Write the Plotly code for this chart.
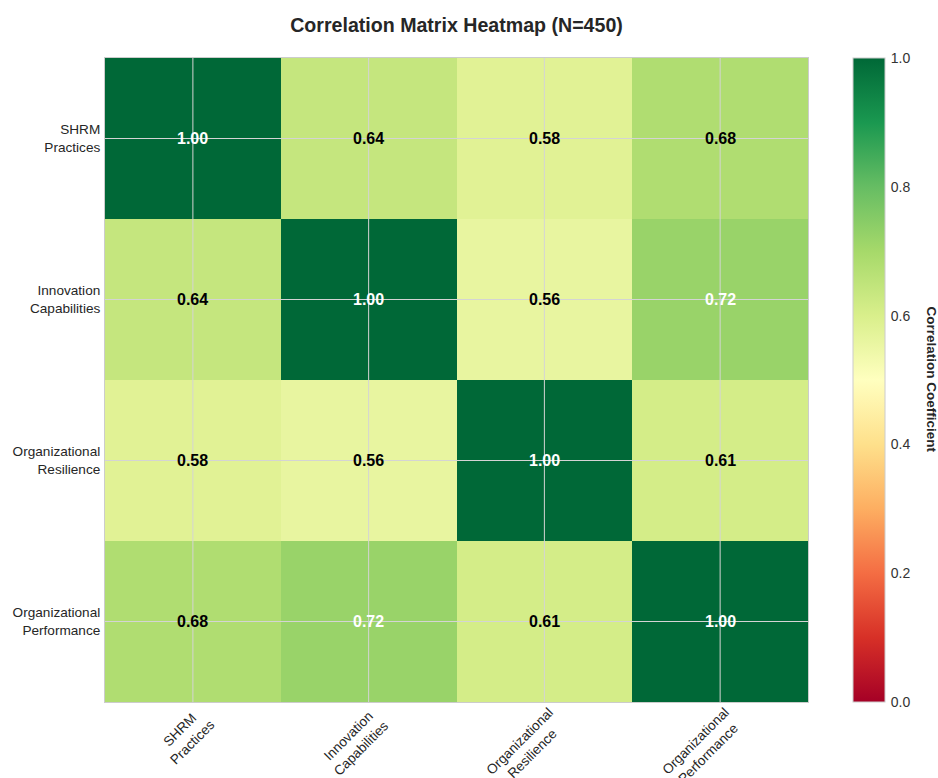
import plotly.graph_objects as go

# Study variables and their pairwise correlations (N=450)
variables = ["SHRM Practices", "Innovation Capabilities",
             "Organizational Resilience", "Organizational Performance"]
row_shrm = [1.00, 0.64, 0.58, 0.68]
row_innov = [0.64, 1.00, 0.56, 0.72]
row_resil = [0.58, 0.56, 1.00, 0.61]
row_perf = [0.68, 0.72, 0.61, 1.00]
colorbar_ticks = [0.0, 0.2, 0.4, 0.6, 0.8, 1.0]

corr = [row_shrm, row_innov, row_resil, row_perf]
labels = [v.replace(" ", "<br>") for v in variables]
idx = list(range(len(variables)))

FONT = "Liberation Sans, Arial, sans-serif"
GRID = "#d4d4d4"
LABEL_SIZE = 13.6

fig = go.Figure(go.Heatmap(
    z=corr, x=idx, y=idx,
    colorscale="RdYlGn", zmin=0, zmax=1,
    xgap=0, ygap=0, hoverinfo="skip",
    colorbar=dict(
        x=1.064, xanchor="left", xpad=0, ypad=0,
        y=0.5, yanchor="middle", len=1, lenmode="fraction",
        thickness=32, thicknessmode="pixels",
        outlinecolor="#cccccc", outlinewidth=1,
        tickvals=colorbar_ticks, ticktext=[f"{t:.1f}" for t in colorbar_ticks],
        ticks="outside", ticklen=3, tickcolor="rgba(0,0,0,0)",
        tickfont=dict(family=FONT, size=14, color="#333333"),
    ),
))

annotations = []
# Cell values: white on dark cells, black elsewhere
for i, row in enumerate(corr):
    for j, v in enumerate(row):
        annotations.append(dict(
            x=j, y=i, xref="x", yref="y", text=f"<b>{v:.2f}</b>",
            showarrow=False,
            font=dict(family=FONT, size=16, color="white" if v > 0.7 else "black"),
        ))

# Rotated x-axis category labels, anchored at their right end below each tick
for j, v in enumerate(variables):
    w = 6.3 * max(len(part) for part in v.split(" "))
    h = 31.0
    annotations.append(dict(
        x=j, y=0, xref="x", yref="paper", text=labels[j],
        showarrow=False, textangle=-45, align="center",
        xanchor="center", yanchor="middle",
        xshift=0.707 * (h - w) / 2 + 2,
        yshift=-(3 + 0.707 * (w + h) / 2),
        font=dict(family=FONT, size=LABEL_SIZE, color="#262626"),
    ))

# Colorbar label
annotations.append(dict(
    x=1.177, y=0.5, xref="paper", yref="paper",
    text="<b>Correlation Coefficient</b>", showarrow=False, textangle=90,
    xanchor="center", yanchor="middle",
    font=dict(family=FONT, size=13.5, color="#262626"),
))

# Grid lines drawn on top of the heatmap cells at each tick
shapes = []
for t in idx:
    shapes.append(dict(type="line", xref="x", yref="paper", x0=t, x1=t, y0=0, y1=1,
                       line=dict(color=GRID, width=1), layer="above"))
    shapes.append(dict(type="line", xref="paper", yref="y", x0=0, x1=1, y0=t, y1=t,
                       line=dict(color=GRID, width=1), layer="above"))

fig.update_layout(
    width=938, height=778,
    margin=dict(l=105, r=130, t=58, b=76, autoexpand=False),
    paper_bgcolor="white", plot_bgcolor="white",
    title=dict(text="<b>Correlation Matrix Heatmap (N=450)</b>",
               x=0.5, xref="paper", xanchor="center", y=0.968, yanchor="middle",
               font=dict(family=FONT, size=19.6, color="#262626")),
    xaxis=dict(tickvals=idx, ticktext=["" for _ in idx], range=[-0.5, 3.5],
               showgrid=False, layer="above traces", automargin=False,
               showline=True, linecolor="#cccccc", linewidth=1, mirror=True,
               ticks="", zeroline=False),
    yaxis=dict(tickvals=idx, ticktext=labels, range=[3.5, -0.5],
               showgrid=False, layer="above traces", automargin=False,
               showline=True, linecolor="#cccccc", linewidth=1, mirror=True,
               ticks="", ticklabelstandoff=1, zeroline=False,
               tickfont=dict(family=FONT, size=LABEL_SIZE, color="#262626")),
    annotations=annotations,
    shapes=shapes,
)

fig.write_html("out.html")
